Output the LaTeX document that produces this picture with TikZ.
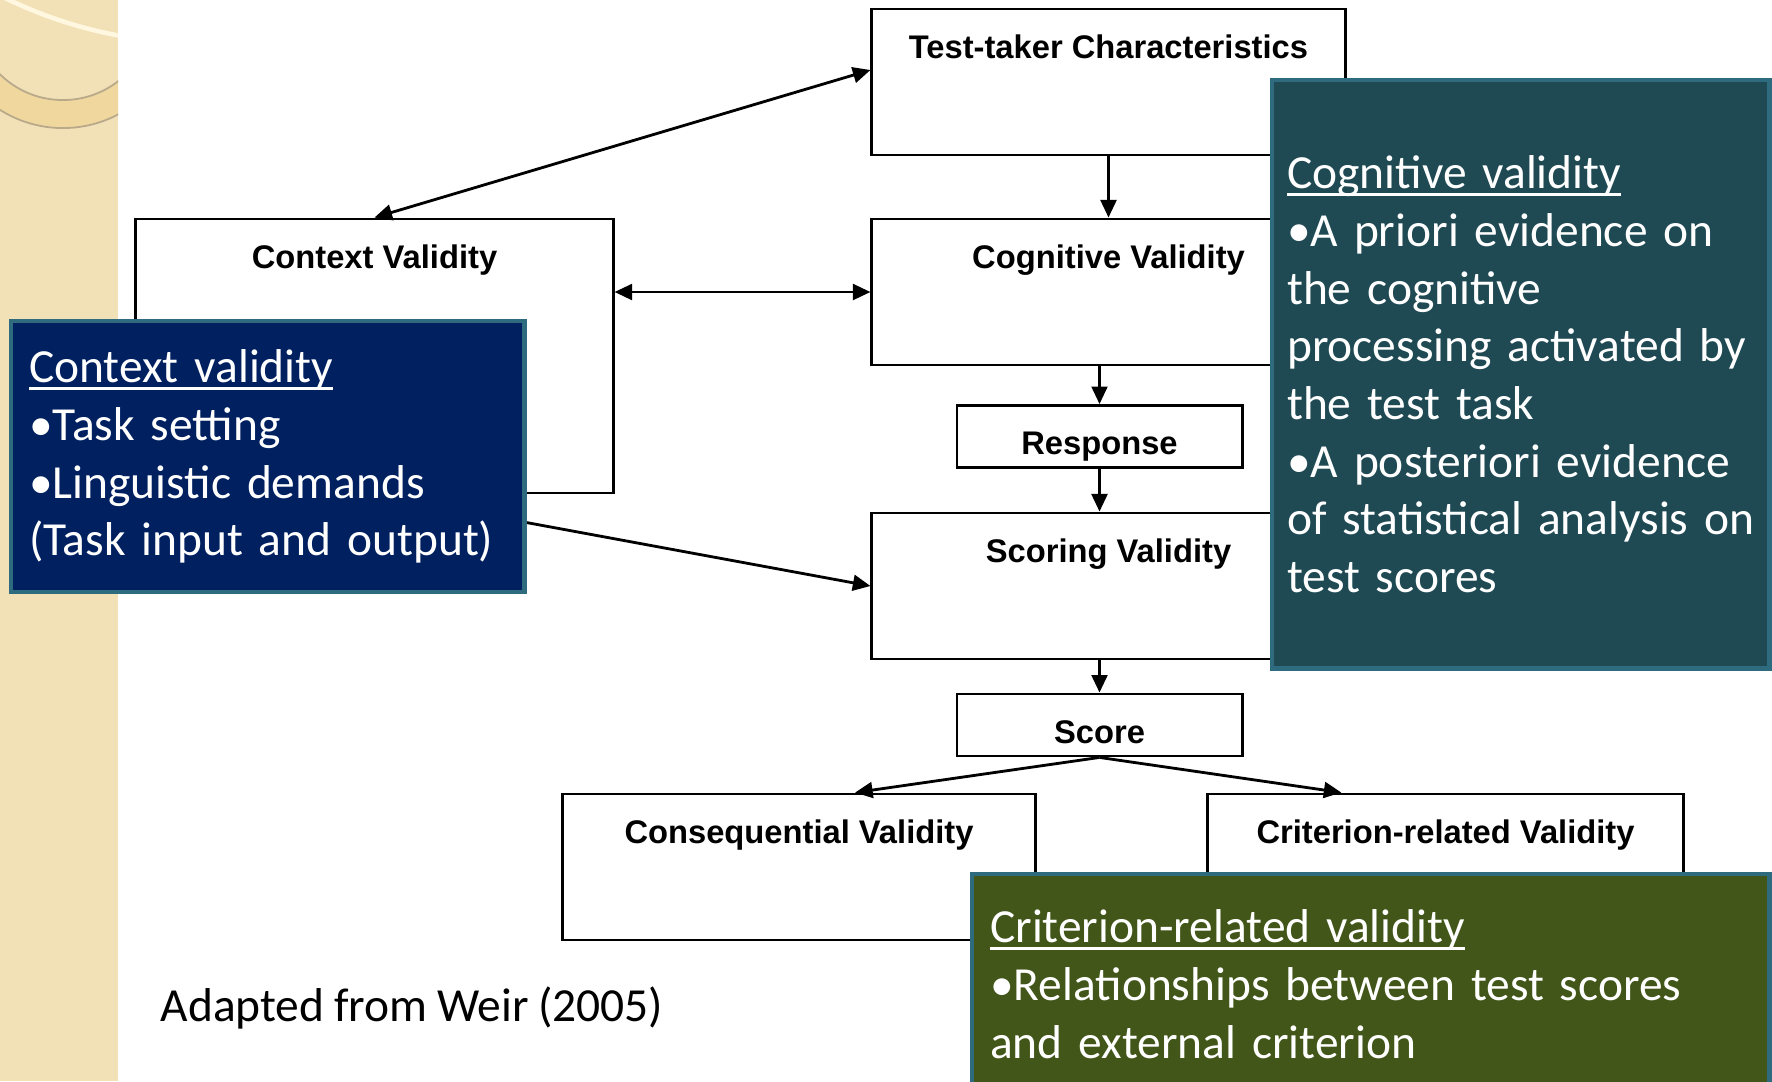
\documentclass[tikz,border=0pt]{standalone}
\usepackage{fontspec}
\setmainfont{Carlito}[WordSpace=0.9]
\newfontfamily\boxfont{Liberation Sans}
\usepackage{tikz}
\usetikzlibrary{calc,arrows.meta}

\definecolor{navybg}{HTML}{002060}
\definecolor{tealbg}{HTML}{1F4A54}
\definecolor{olivebg}{HTML}{425619}
\definecolor{noteedge}{HTML}{2E6B7E}
\definecolor{sandbg}{HTML}{F2E1B6}
\definecolor{sandring}{HTML}{EFD79E}
\definecolor{sandedge}{HTML}{B8A98A}
\definecolor{creamarc}{HTML}{FFF7DF}

% underlined heading of a note
\newcommand\uln[1]{\setbox0\hbox{#1}\rlap{\rule[-2pt]{\wd0}{0.8pt}}\box0}

\tikzset{
  stage/.style={draw, line width=0.8pt, inner sep=0pt, minimum width=4.73cm, minimum height=1.46cm},
  small stage/.style={stage, minimum width=2.85cm, minimum height=0.62cm, text height=0.36cm, text depth=0cm, font=\boxfont\bfseries\fontsize{9.3}{11}\selectfont},
  stagelbl/.style={anchor=north, yshift=-0.27cm, inner sep=0pt, font=\boxfont\bfseries\fontsize{9.3}{11}\selectfont},
  notebox/.style={draw=noteedge, line width=1.2pt, anchor=north west, inner xsep=0.18cm, align=left, text=white, font=\fontsize{13.5}{16.4}\selectfont},
  link/.style={line width=0.8pt}
}

\begin{document}
\begin{tikzpicture}[x=0.01cm, y=-0.01cm, >={Triangle[length=5pt,width=4.5pt]}]
        \useasboundingbox (0,0) rectangle (1772,1081);
        % background
        \fill[white] (0,0) rectangle (1772,1081);
        \fill[sandbg] (0,0) rectangle (118,1081);
        \begin{scope}
          \clip (0,0) rectangle (118,1081);
          \fill[sandring, even odd rule] (63,10) circle (1.18cm) (63,10) circle (0.9cm);
          \draw[sandedge, line width=0.5pt] (63,10) circle (1.18cm) (63,10) circle (0.9cm);
          \draw[creamarc, line width=1.3pt] (202,-407) circle (4.5cm);
        \end{scope}

        % stages
        \node[stage, label={[stagelbl]north:Test-taker Characteristics}] (tt) at (1108.5,82) {};
        \node[stage, minimum width=4.77cm, minimum height=2.74cm, label={[stagelbl]north:Context Validity}] (ctx) at (374.5,356) {};
        \node[stage, label={[stagelbl]north:Cognitive Validity}] (cog) at (1108.5,292) {};
        \node[small stage] (resp) at (1099.5,436.5) {Response};
        \node[stage, label={[stagelbl]north:Scoring Validity}] (scor) at (1108.5,586) {};
        \node[small stage] (score) at (1099.5,725) {Score};
        \node[stage, minimum width=4.72cm, label={[stagelbl]north:Consequential Validity}] (cons) at (799,867) {};
        \node[stage, minimum width=4.75cm, label={[stagelbl]north:Criterion-related Validity}] (crit) at (1445.5,867) {};

        % connectors
        \draw[link,<->] ([yshift=0.12cm]tt.west) -- (ctx.north);
        \draw[link,->] (tt.south) -- (cog.north);
        \draw[link,<->] (ctx.east |- cog.west) -- (cog.west);
        \draw[link,->] (resp.north |- cog.south) -- (resp.north);
        \draw[link,->] (resp.south) -- (resp.south |- scor.north);
        \draw[link,->] (ctx.south) -- (scor.west);
        \draw[link,->] (score.north |- scor.south) -- (score.north);
        \draw[link,->] (score.south) -- ([xshift=0.56cm]cons.north);
        \draw[link,->] (score.south) -- ([xshift=-1.04cm]crit.north);

        % notes on top
        \node[notebox, fill=navybg, minimum width=5.13cm, minimum height=2.71cm, text width=4.77cm] (ctxnote) at (9,319)
          {\uln{Context validity}\\\textbullet Task setting\\\textbullet Linguistic demands\\(Task input and output)};
        \node[notebox, fill=tealbg, inner xsep=0.15cm, minimum width=4.97cm, minimum height=5.88cm, text width=4.67cm] (cognote) at (1270,78)
          {\uln{Cognitive validity}\\\textbullet A priori evidence on\\the cognitive\\\mbox{processing activated by}\\the test task\\\textbullet A posteriori evidence\\\mbox{of statistical analysis on}\\test scores};
        \node[notebox, fill=olivebg, minimum width=7.97cm, minimum height=2.2cm, text width=7.61cm] (critnote) at (970,872)
          {\uln{Criterion-related validity}\\\textbullet Relationships between test scores\\and external criterion};

        \node[anchor=west, inner sep=0pt, font=\fontsize{13.5}{16.4}\selectfont] (src) at (160,1008) {Adapted from Weir (2005)};
\end{tikzpicture}
\end{document}
